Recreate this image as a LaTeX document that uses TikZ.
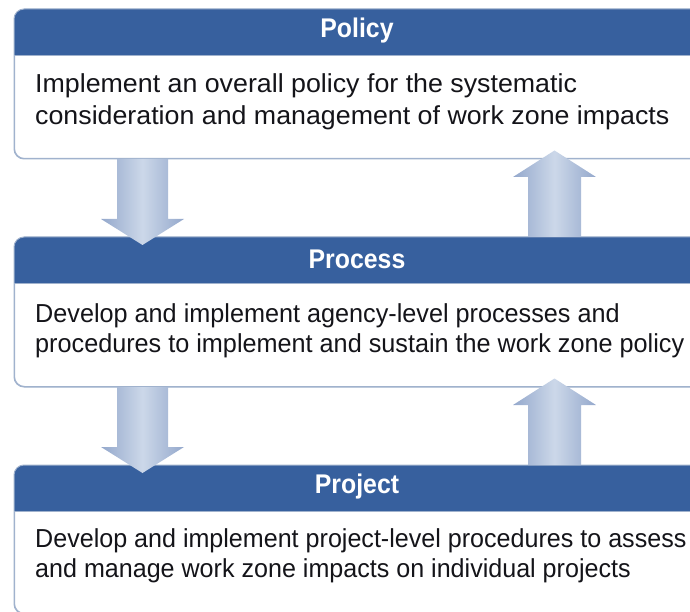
\documentclass[tikz,border=0pt]{standalone}
\usepackage{fontspec}
\setmainfont{Liberation Sans}
\newfontfamily\titlefont[FakeStretch=0.92]{Liberation Sans}
\newfontfamily\bodyfontA[FakeStretch=1.03]{Liberation Sans}
\newfontfamily\bodyfontB[FakeStretch=0.97]{Liberation Sans}
\newfontfamily\bodyfontC[FakeStretch=0.965]{Liberation Sans}
\usetikzlibrary{calc}
\definecolor{hdr}{RGB}{55,96,158}
\definecolor{edgec}{RGB}{160,178,205}
\definecolor{arrowdark}{RGB}{148,168,204}
\definecolor{arrowlight}{RGB}{204,216,233}
\definecolor{bodytext}{RGB}{20,20,25}
\begin{document}
\begin{tikzpicture}[x=1pt,y=-1pt,
  box/.style={draw=edgec, line width=1pt, fill=white, rounded corners=10pt,
    minimum width=706pt, minimum height=#1, anchor=north west, inner sep=0pt},
  title/.style={text=white, font=\titlefont\bfseries\fontsize{27}{30}\selectfont, inner sep=0pt},
  body/.style={text=bodytext, align=left, anchor=base west, inner sep=0pt},
  bigarrow/.style={left color=arrowdark, right color=arrowdark, middle color=arrowlight}
]
\useasboundingbox (0,0) rectangle (690,612);
\clip (0,0) rectangle (690,612);

% boxes
\node[box=149pt] (policy) at (14,9) {};
\node[box=149pt] (process) at (14,237) {};
\node[box=148pt] (project) at (14,465) {};

% headers
\foreach \b in {policy,process,project}{
  \fill[hdr] ($(\b.north west)+(0,46)$) [rounded corners=10pt]-- (\b.north west) -- (\b.north east) [sharp corners]-- ($(\b.north east)+(0,46)$) -- cycle;
  \draw[edgec, line width=1pt, rounded corners=10pt] (\b.south west) rectangle (\b.north east);
  \draw[edgec, line width=0.8pt] ($(\b.north west)+(0,46.5)$) -- ($(\b.north east)+(0,46.5)$);
}

% titles
\node[title] (t1) at ($(policy.north west)+(343,22)$) {Policy};
\node[title] (t2) at ($(process.north west)+(343,22)$) {Process};
\node[title] (t3) at ($(project.north west)+(343,22)$) {Project};

% body texts (anchor = baseline of the last line)
\node[body, font=\bodyfontA\fontsize{26}{32}\selectfont] (b1) at ($(policy.north west)+(21,116)$) {Implement an overall policy for the systematic\\consideration and management of work zone impacts};
\node[body, font=\bodyfontB\fontsize{26}{30}\selectfont] (b2) at ($(process.north west)+(21,115)$) {Develop and implement agency-level processes and\\procedures to implement and sustain the work zone policy};
\node[body, font=\bodyfontC\fontsize{26}{30}\selectfont] (b3) at ($(project.north west)+(21,112)$) {Develop and implement project-level procedures to assess\\and manage work zone impacts on individual projects};

% down arrows
\foreach \a/\b in {policy/process,process/project}{
  \shade[bigarrow]
    ($(\a.south west)+(103,0)$) -- ($(\a.south west)+(154,0)$) --
    ($(\b.north west)+(154,-18)$) -- ($(\b.north west)+(170,-18)$) --
    ($(\b.north west)+(128.5,8)$) -- ($(\b.north west)+(87,-18)$) --
    ($(\b.north west)+(103,-18)$) -- cycle;
}
% up arrows
\foreach \a/\b in {process/policy,project/process}{
  \shade[bigarrow]
    ($(\a.north west)+(514,0)$) -- ($(\a.north west)+(567,0)$) --
    ($(\b.south west)+(567,18)$) -- ($(\b.south west)+(582,18)$) --
    ($(\b.south west)+(540.5,-8.5)$) -- ($(\b.south west)+(499,18)$) --
    ($(\b.south west)+(514,18)$) -- cycle;
}
\end{tikzpicture}
\end{document}
